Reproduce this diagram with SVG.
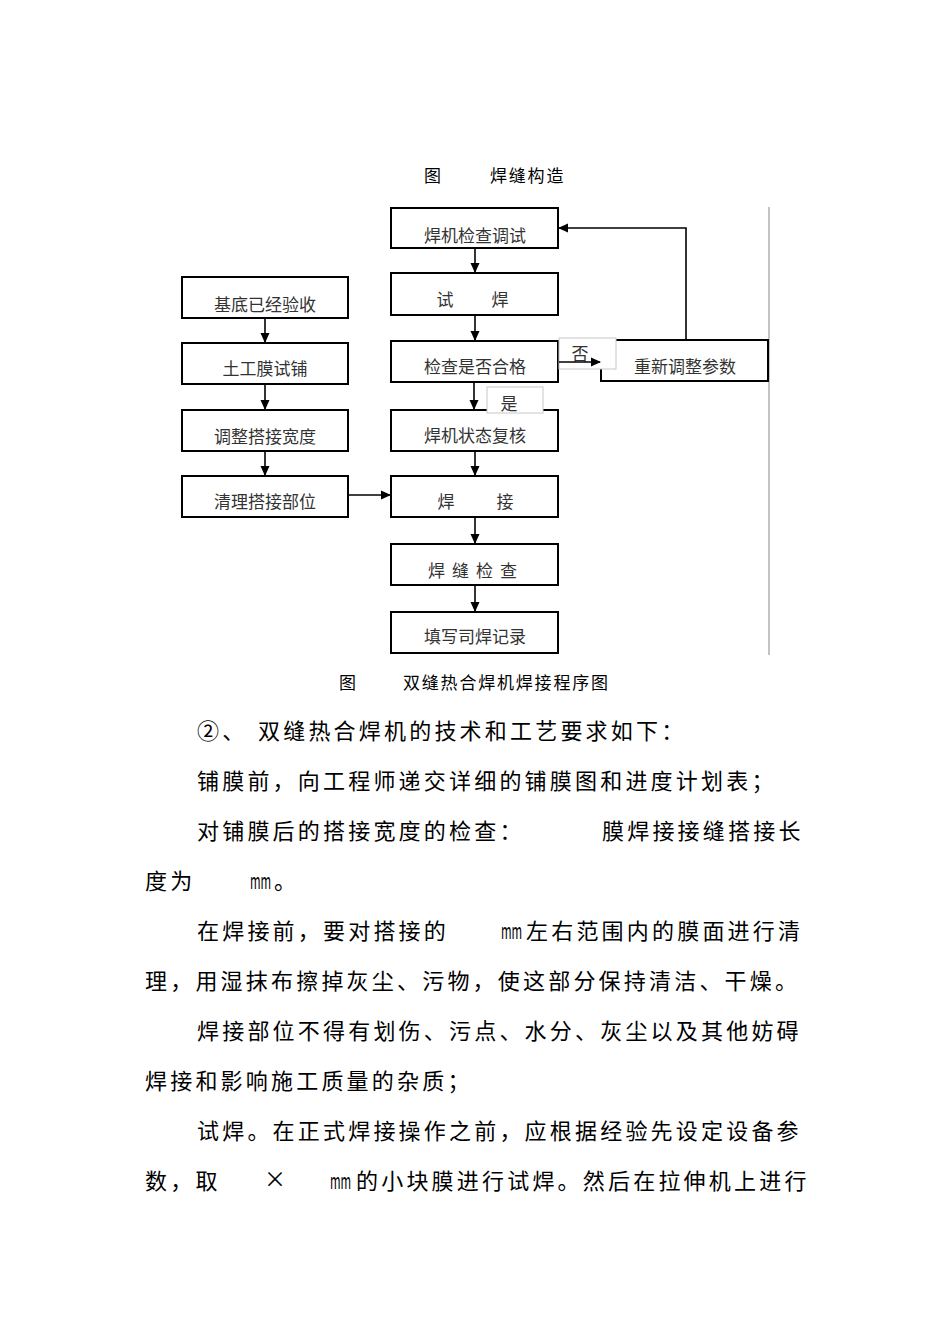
<svg xmlns="http://www.w3.org/2000/svg" width="950" height="1344" viewBox="0 0 950 1344">
<style>
.box{fill:#fff;stroke:#000;stroke-width:2}
.lbl{fill:#fff;stroke:#c8c8c8;stroke-width:1}
.bt{font-family:"Noto Sans CJK SC","Liberation Sans",sans-serif;font-size:17px;fill:#333;text-anchor:middle}
.cap{font-family:"Noto Sans CJK SC","Liberation Sans",sans-serif;font-size:17px;fill:#000;letter-spacing:1.8px}
.p{font-family:"Noto Sans CJK SC","Liberation Sans",sans-serif;font-size:22px;fill:#000;letter-spacing:3.2px}
.mm{font-family:"Noto Sans CJK SC","Liberation Sans",sans-serif;font-size:22px;fill:#000}
.ln{stroke:#000;stroke-width:1.6;fill:none}
</style>
<defs>
<marker id="ah" markerWidth="10" markerHeight="10" refX="9" refY="5" orient="auto" markerUnits="userSpaceOnUse">
<path d="M0,0.5 L10,5 L0,9.5 Z" fill="#000"/>
</marker>
</defs>
<rect width="950" height="1344" fill="#fff"/>

<text class="cap" x="424" y="182">图</text>
<text class="cap" x="490" y="182">焊缝构造</text>

<line x1="769" y1="207" x2="769" y2="655" stroke="#888" stroke-width="1"/>

<g id="n1"><rect class="box" x="391" y="208" width="167" height="40"/><text class="bt" x="475" y="242">焊机检查调试</text></g>
<g id="n2"><rect class="box" x="391" y="273" width="167" height="42"/><text class="bt" x="445" y="306">试</text><text class="bt" x="500" y="306">焊</text></g>
<g id="n3"><rect class="box" x="391" y="341" width="167" height="41"/><text class="bt" x="475" y="373">检查是否合格</text></g>
<g id="n4"><rect class="box" x="391" y="410" width="167" height="41"/><text class="bt" x="475" y="442">焊机状态复核</text></g>
<g id="n5"><rect class="box" x="391" y="476" width="167" height="41"/><text class="bt" x="446" y="508">焊</text><text class="bt" x="505" y="508">接</text></g>
<g id="n6"><rect class="box" x="391" y="544" width="167" height="41"/><text class="bt" x="476" y="577" letter-spacing="7">焊缝检查</text></g>
<g id="n7"><rect class="box" x="391" y="612" width="167" height="41"/><text class="bt" x="475" y="643" font-size="19">填写司焊记录</text></g>

<g id="l1"><rect class="box" x="182" y="277" width="166" height="41"/><text class="bt" x="265" y="311">基底已经验收</text></g>
<g id="l2"><rect class="box" x="182" y="343" width="166" height="41"/><text class="bt" x="265" y="375">土工膜试铺</text></g>
<g id="l3"><rect class="box" x="182" y="410" width="166" height="41"/><text class="bt" x="265" y="443">调整搭接宽度</text></g>
<g id="l4"><rect class="box" x="182" y="476" width="166" height="41"/><text class="bt" x="265" y="508">清理搭接部位</text></g>

<g id="r1"><rect class="box" x="601" y="340" width="167" height="41"/><text class="bt" x="685" y="373">重新调整参数</text></g>

<g id="lblNo"><rect class="lbl" x="559" y="338" width="57" height="31"/><text class="bt" x="580" y="360">否</text></g>
<g id="lblYes"><rect class="lbl" x="487" y="387" width="56" height="26"/><text class="bt" x="509" y="410">是</text></g>

<g id="connectors">
<line class="ln" x1="475" y1="249" x2="475" y2="272" marker-end="url(#ah)"/>
<line class="ln" x1="475" y1="316" x2="475" y2="340" marker-end="url(#ah)"/>
<line class="ln" x1="474" y1="383" x2="474" y2="409" marker-end="url(#ah)"/>
<line class="ln" x1="475" y1="452" x2="475" y2="475" marker-end="url(#ah)"/>
<line class="ln" x1="475" y1="518" x2="475" y2="543" marker-end="url(#ah)"/>
<line class="ln" x1="475" y1="586" x2="475" y2="611" marker-end="url(#ah)"/>
<line class="ln" x1="265" y1="319" x2="265" y2="342" marker-end="url(#ah)"/>
<line class="ln" x1="265" y1="385" x2="265" y2="409" marker-end="url(#ah)"/>
<line class="ln" x1="265" y1="452" x2="265" y2="475" marker-end="url(#ah)"/>
<line class="ln" x1="349" y1="495" x2="390" y2="495" marker-end="url(#ah)"/>
<line class="ln" x1="559" y1="362" x2="600" y2="362" marker-end="url(#ah)"/>
<polyline class="ln" points="686,340 686,228 559,228" marker-end="url(#ah)" stroke="#333"/>
</g>

<text class="cap" x="339" y="689">图</text>
<text class="cap" x="403" y="689">双缝热合焊机焊接程序图</text>

<g id="body">
<text class="p" x="197" y="739">②、</text>
<text class="p" x="258" y="739">双缝热合焊机的技术和工艺要求如下：</text>
<text class="p" x="197" y="789">铺膜前，向工程师递交详细的铺膜图和进度计划表；</text>
<text class="p" x="197" y="839">对铺膜后的搭接宽度的检查：</text>
<text class="p" x="602" y="839">膜焊接接缝搭接长</text>
<text class="p" x="145" y="889">度为</text>
<text class="mm" transform="translate(250,889) scale(0.52,1)">mm</text>
<text class="p" x="274" y="889">。</text>
<text class="p" x="197" y="939">在焊接前，要对搭接的</text>
<text class="mm" transform="translate(501,939) scale(0.52,1)">mm</text>
<text class="p" x="526" y="939">左右范围内的膜面进行清</text>
<text class="p" x="145" y="989">理，用湿抹布擦掉灰尘、污物，使这部分保持清洁、干燥。</text>
<text class="p" x="197" y="1039">焊接部位不得有划伤、污点、水分、灰尘以及其他妨碍</text>
<text class="p" x="145" y="1089">焊接和影响施工质量的杂质；</text>
<text class="p" x="197" y="1139">试焊。在正式焊接操作之前，应根据经验先设定设备参</text>
<text class="p" x="145" y="1189">数，取</text>
<text class="p" x="264" y="1187" letter-spacing="0" font-size="16">×</text>
<text class="mm" transform="translate(330,1189) scale(0.52,1)">mm</text>
<text class="p" x="356" y="1189">的小块膜进行试焊。然后在拉伸机上进行</text>
</g>
</svg>
